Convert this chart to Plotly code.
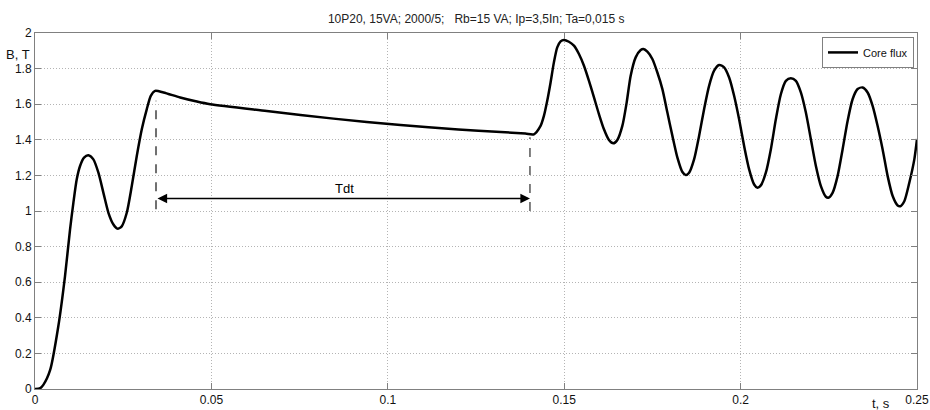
import plotly.graph_objects as go

# ---- data ----
t_s = [0.0, 0.0015, 0.00236, 0.0043, 0.0066, 0.0085, 0.00993, 0.01088, 0.01182, 0.01277,
       0.0139, 0.01513, 0.01655, 0.01797, 0.01939, 0.02081, 0.02223, 0.02336, 0.02459,
       0.02601, 0.02743, 0.02885, 0.03027, 0.03169, 0.03282, 0.03405, 0.03642, 0.04115,
       0.04588, 0.04966, 0.0657, 0.0846, 0.1036, 0.1200, 0.1320, 0.1390, 0.14141,
       0.1433, 0.14425, 0.14519, 0.14614, 0.14708, 0.14803, 0.14898, 0.14992, 0.15134,
       0.15276, 0.15418, 0.1556, 0.15702, 0.15844, 0.15985, 0.16127, 0.16269, 0.16392,
       0.16506, 0.16648, 0.1677, 0.16884, 0.17026, 0.17168, 0.17244, 0.17357, 0.17499,
       0.17641, 0.17783, 0.17925, 0.18067, 0.18209, 0.18351, 0.18445, 0.1854, 0.18681,
       0.18823, 0.18965, 0.19107, 0.19249, 0.19391, 0.19533, 0.19675, 0.19816, 0.19958,
       0.201, 0.20242, 0.20384, 0.20479, 0.20573, 0.20715, 0.20857, 0.20999, 0.21141,
       0.21283, 0.21425, 0.21567, 0.21708, 0.2185, 0.21992, 0.22134, 0.22276, 0.22418,
       0.22484, 0.22607, 0.22749, 0.22891, 0.23033, 0.23174, 0.23316, 0.23458, 0.236,
       0.23742, 0.23884, 0.24026, 0.24168, 0.2431, 0.24452, 0.24527, 0.2464, 0.24782,
       0.24924, 0.2500]
core_flux = [0.0, 0.005, 0.023, 0.107, 0.351, 0.633, 0.896, 1.046, 1.177, 1.253,
             1.300, 1.313, 1.290, 1.215, 1.102, 0.990, 0.924, 0.901, 0.914,
             0.990, 1.140, 1.309, 1.459, 1.572, 1.647, 1.675, 1.666, 1.638,
             1.615, 1.600, 1.562, 1.519, 1.483, 1.458, 1.444, 1.435, 1.431,
             1.478, 1.534, 1.619, 1.722, 1.835, 1.919, 1.953, 1.961, 1.951,
             1.929, 1.882, 1.816, 1.731, 1.638, 1.544, 1.459, 1.399, 1.380,
             1.399, 1.478, 1.609, 1.760, 1.863, 1.904, 1.910, 1.895, 1.854,
             1.778, 1.685, 1.553, 1.422, 1.300, 1.219, 1.202, 1.215, 1.290,
             1.422, 1.572, 1.703, 1.788, 1.820, 1.807, 1.750, 1.647, 1.515,
             1.365, 1.234, 1.149, 1.131, 1.144, 1.215, 1.346, 1.515, 1.656,
             1.731, 1.746, 1.731, 1.666, 1.553, 1.403, 1.253, 1.140, 1.080,
             1.074, 1.102, 1.196, 1.346, 1.506, 1.628, 1.685, 1.694, 1.666,
             1.591, 1.478, 1.346, 1.196, 1.084, 1.031, 1.027, 1.055, 1.159,
             1.290, 1.405]

x_ticks = [0, 0.05, 0.1, 0.15, 0.2, 0.25]
x_tick_labels = ["0", "0.05", "0.1", "0.15", "0.2", "0.25"]
y_ticks = [0, 0.2, 0.4, 0.6, 0.8, 1.0, 1.2, 1.4, 1.6, 1.8, 2.0]
y_tick_labels = ["0", "0.2", "0.4", "0.6", "0.8", "1", "1.2", "1.4", "1.6", "1.8", "2"]

# Tdt annotation values
tdt_start = 0.0343
tdt_end = 0.1403
tdt_level = 1.07
tdt_text_pos = [0.0877, 1.125]
dash_left = [1.01, 1.62]
dash_right = [1.00, 1.414]

title = "10P20, 15VA; 2000/5;   Rb=15 VA; Ip=3,5In; Ta=0,015 s"

FONT = "Liberation Sans, Arial, sans-serif"

fig = go.Figure()
fig.add_trace(go.Scatter(
    x=t_s, y=core_flux, mode="lines", name="Core flux",
    line=dict(color="black", width=2.5, shape="spline", smoothing=0.7),
))

axis_common = dict(
    showline=True, linecolor="#808080", linewidth=1, mirror="ticks",
    ticks="inside", ticklen=6, tickcolor="#808080",
    showgrid=True, gridcolor="#b4b4b4", gridwidth=1, griddash="1px,2px",
    zeroline=False, automargin=False,
    tickfont=dict(family=FONT, size=12, color="#111"),
)

fig.update_xaxes(range=[0, 0.25], tickvals=x_ticks, ticktext=x_tick_labels, **axis_common)
fig.update_yaxes(range=[0, 2], tickvals=y_ticks, ticktext=y_tick_labels, **axis_common)

# dashed markers
fig.add_shape(type="line", x0=tdt_start, x1=tdt_start, y0=dash_left[0], y1=dash_left[1],
              line=dict(color="#707070", width=2, dash="dash"))
fig.add_shape(type="line", x0=tdt_end, x1=tdt_end, y0=dash_right[0], y1=dash_right[1],
              line=dict(color="black", width=1, dash="dash"))

# double-headed arrow
fig.add_annotation(x=tdt_end, y=tdt_level, ax=tdt_start, ay=tdt_level,
                   xref="x", yref="y", axref="x", ayref="y", text="",
                   showarrow=True, arrowhead=2, startarrowhead=2, arrowside="end+start",
                   arrowsize=1.2, startarrowsize=1.2, arrowwidth=1.6, arrowcolor="black")
fig.add_annotation(x=tdt_text_pos[0], y=tdt_text_pos[1], xref="x", yref="y", text="Tdt",
                   showarrow=False, font=dict(family=FONT, size=13, color="black"))

# axis labels
fig.add_annotation(x=-0.003, y=1.88, xref="paper", yref="y", text="B, T", showarrow=False,
                   xanchor="right", yanchor="middle", font=dict(family=FONT, size=13, color="#111"))
fig.add_annotation(x=0.2398, y=-0.04, xref="x", yref="paper", text="t, s", showarrow=False,
                   xanchor="center", yanchor="middle", font=dict(family=FONT, size=13, color="#111"))

fig.update_layout(
    width=930, height=410,
    margin=dict(l=35, r=13, t=33, b=21),
    paper_bgcolor="white", plot_bgcolor="white",
    title=dict(text=title, x=0.512, xanchor="center", y=0.955, yanchor="middle",
               font=dict(family=FONT, size=12, color="#222")),
    showlegend=True,
    legend=dict(x=0.9966, y=0.989, xanchor="right", yanchor="top",
                bgcolor="white", bordercolor="#808080", borderwidth=1,
                font=dict(family=FONT, size=11, color="#111"),
                itemwidth=30, tracegroupgap=0),
)

fig.write_html("out.html", config={"displayModeBar": False},
               post_script="document.body.style.margin='0';")
